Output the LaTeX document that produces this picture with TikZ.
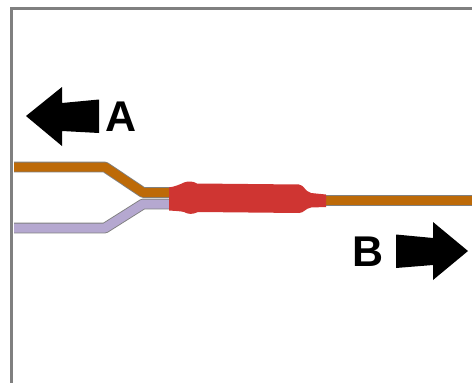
\documentclass[tikz,border=0pt]{standalone}
\usepackage{fontspec}
\setmainfont{Liberation Sans}
\definecolor{wireorange}{HTML}{BD6A08}
\definecolor{wirelilac}{HTML}{B5A8D0}
\definecolor{sleeve}{HTML}{CF3532}
\definecolor{edgegray}{HTML}{808080}
\tikzset{
  px/.style={x=1pt,y=-1pt},
  frameline/.style={draw=edgegray,line width=2.2pt},
  wireedge/.style={draw=edgegray,line width=10.8pt,line join=round},
  orangewire/.style={draw=wireorange,line width=9pt,line join=round},
  lilacwire/.style={draw=wirelilac,line width=9pt,line join=round},
  sleevebody/.style={fill=sleeve,draw=none},
  bigarrow/.style={fill=black,draw=none},
  biglabel/.style={font=\fontsize{43}{43}\selectfont\bfseries,inner sep=0pt,text=black}
}
\begin{document}
\begin{tikzpicture}[px]
\useasboundingbox (0,0) rectangle (472,383);
\draw[frameline] (472,8.5) -- (11.5,8.5) -- (11.5,383);
% wires
\draw[wireedge] (14,228) -- (105,228) -- (143,204) -- (172,204);
\draw[lilacwire] (14,228) -- (105,228) -- (143,204) -- (172,204);
\draw[wireedge] (14,167) -- (105,167) -- (143,192.5) -- (172,192.5);
\draw[orangewire] (14,167) -- (105,167) -- (143,192.5) -- (172,192.5);
\draw[wireedge] (322,200.7) -- (472,200.7);
\draw[orangewire] (322,200.7) -- (472,200.7);
% sleeve
\path[sleevebody] (169,187.5)
  .. controls (175,186.5) and (180,184.5) .. (184,182.5)
  .. controls (188,181) and (193,181) .. (197,183.5)
  -- (299,184.5)
  .. controls (304,185) and (305,191.5) .. (311,193)
  -- (326,194.5) -- (326,207) -- (311,207.5)
  .. controls (305,208.5) and (304,213) .. (299,213)
  -- (198,212)
  .. controls (193,214.5) and (188,214.5) .. (184,212)
  .. controls (180,211) and (175,211) .. (169,210.5) -- cycle;
% arrows
\path[bigarrow] (26,116) -- (62,87) -- (62,103) -- (99,99.5) -- (99,133) -- (62,131) -- (62,146) -- cycle;
\path[bigarrow] (468,251) -- (433,222) -- (433,238) -- (396,234.5) -- (396,268) -- (433,265) -- (433,280) -- cycle;
\node[biglabel] (labelA) at (121.5,117) {A};
\node[biglabel] (labelB) at (368,252) {B};
\end{tikzpicture}
\end{document}
